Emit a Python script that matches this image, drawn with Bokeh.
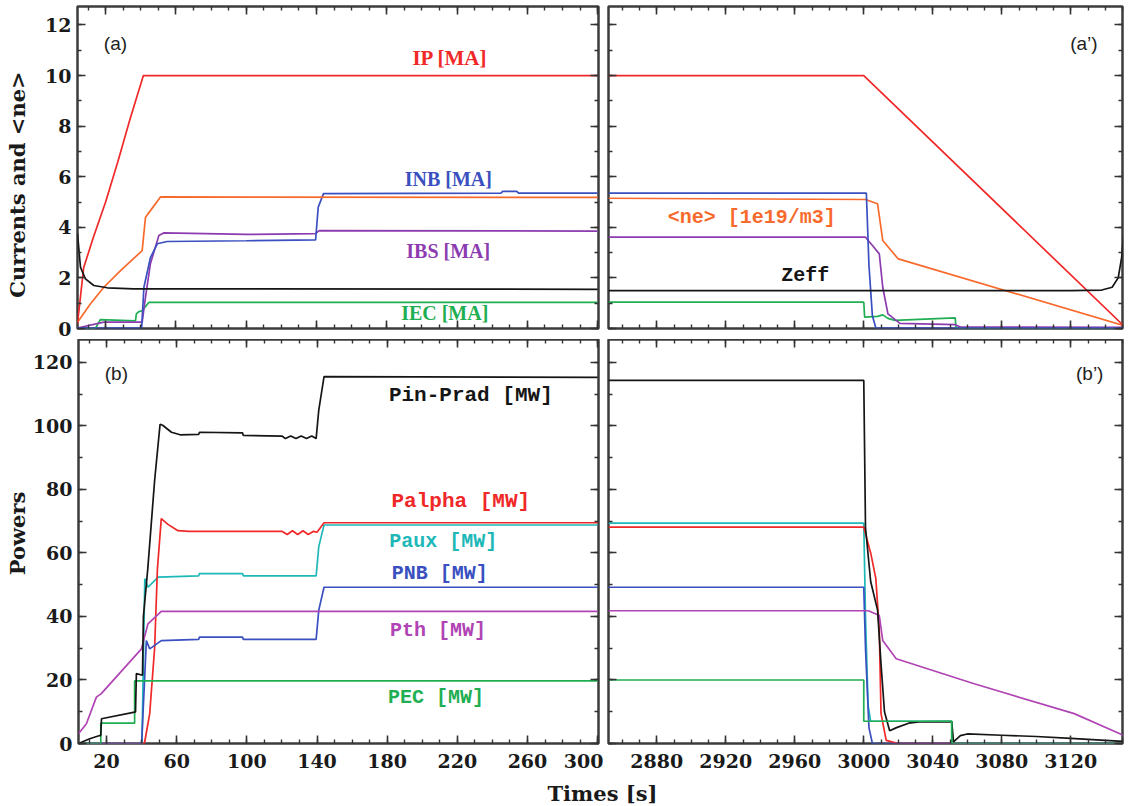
import math
from bokeh.plotting import figure
from bokeh.layouts import column, row
from bokeh.models import FixedTicker, LinearAxis, Label, Range1d
from bokeh.embed import file_html
from bokeh.resources import INLINE

# ---------------- data ----------------
# panel (a): currents and density, 0-300 s
IP_t = [4, 7.5, 13, 20, 27, 34, 41.5, 300]
IP_v = [0.2, 2.4, 3.6, 5.0, 6.6, 8.3, 10.0, 10.0]
NE_t = [4, 11.4, 19, 28.5, 40.8, 42.7, 45.5, 51.2, 300]
NE_v = [0.25, 0.98, 1.63, 2.29, 3.08, 4.4, 4.66, 5.2, 5.18]
INB_t = [4, 40.5, 41.8, 45.5, 49.4, 55, 100, 139.5, 141, 144, 245, 246, 254, 255, 300]
INB_v = [0.02, 0.02, 1.63, 2.8, 3.35, 3.44, 3.47, 3.5, 4.8, 5.33, 5.35, 5.42, 5.42, 5.35, 5.35]
IBS_t = [4, 19, 40.8, 42.7, 45.5, 50.3, 53, 100, 139.5, 141.5, 300]
IBS_v = [0.02, 0.25, 0.25, 1.24, 2.56, 3.68, 3.78, 3.72, 3.75, 3.87, 3.85]
IEC_t = [4, 14.2, 17, 37, 37.5, 38.9, 40.8, 44.6, 300]
IEC_v = [0.0, 0.0, 0.35, 0.3, 0.58, 0.67, 0.7, 1.03, 1.03]
ZEFF_t = [4, 5.7, 8.5, 13.3, 20.9, 36, 300]
ZEFF_v = [3.75, 2.42, 1.96, 1.7, 1.61, 1.57, 1.55]

# panel (a'): 2852-3150 s
IP2_t = [2852, 3000, 3150.5]
IP2_v = [10.0, 10.0, 0.12]
NE2_t = [2852, 3001, 3008, 3011, 3020, 3150.5]
NE2_v = [5.15, 5.1, 4.93, 3.48, 2.75, 0.12]
INB2_t = [2852, 3001.5, 3003, 3005, 3007, 3150]
INB2_v = [5.35, 5.35, 2.5, 0.5, 0.02, 0.02]
IBS2_t = [2852, 3001, 3006, 3009, 3011, 3014, 3021, 3053, 3056, 3150]
IBS2_v = [3.61, 3.61, 3.2, 2.95, 1.63, 0.58, 0.2, 0.15, 0.06, 0.05]
IEC2_t = [2852, 3000, 3000.5, 3008, 3011, 3014, 3018, 3053, 3053.5, 3150]
IEC2_v = [1.04, 1.04, 0.45, 0.48, 0.54, 0.4, 0.32, 0.42, 0.02, 0.02]
ZEFF2_t = [2852, 3000, 3120, 3138, 3144, 3147.5, 3149.5, 3150.5]
ZEFF2_v = [1.5, 1.5, 1.5, 1.52, 1.63, 2.0, 2.8, 3.6]

# panel (b): powers, 0-300 s
PIN_t = [4, 10.4, 16.1, 16.7, 17.1, 36, 36.5, 37, 40.5, 41, 43.5, 47.4, 50.5, 52, 57, 62,
         72.5, 73, 97.5, 98, 120, 122, 125, 128, 131, 134, 137, 139.5, 141, 144, 300]
PIN_v = [0, 1.5, 2.5, 2.5, 7.8, 9.9, 9.9, 22, 21.5, 40, 55, 82.8, 100.5, 100.2, 98, 97.2,
         97.3, 98, 97.8, 97, 96.8, 96, 96.8, 96, 96.8, 96, 96.8, 96, 105, 115.5, 115.3]
PALPHA_t = [4, 41.6, 44.6, 47.4, 49, 51.2, 55, 60.7, 67, 120, 123, 126, 129, 132, 135, 138, 140, 144, 300]
PALPHA_v = [0, 0, 9.4, 30, 55, 70.8, 69, 67, 66.8, 66.8, 65.8, 67, 65.8, 67, 65.8, 66.8, 66.5, 69.5, 69.5]
PAUX_t = [4, 40.2, 41.8, 43.6, 49.4, 72.5, 73, 97.5, 98, 139.5, 141, 144, 300]
PAUX_v = [0, 0, 51.9, 49.2, 52.4, 52.8, 53.5, 53.5, 52.8, 52.8, 62, 68.8, 68.8]
PNB_t = [4, 40, 42.7, 44.6, 51.2, 72.5, 73, 97.5, 98, 139.5, 141, 144, 300]
PNB_v = [0, 0, 32.4, 29.8, 32.4, 32.8, 33.5, 33.5, 32.8, 32.8, 42, 49.2, 49.2]
PTH_t = [4, 8.5, 14.2, 17, 39.9, 43.6, 51.2, 300]
PTH_v = [3.1, 6.2, 14.6, 15.7, 29.8, 37.7, 41.6, 41.6]
PEC_t = [4, 16.7, 16.7, 36, 36, 300]
PEC_v = [0, 0, 6.4, 6.4, 19.7, 19.7]

# panel (b'): 2852-3150 s
PIN2_t = [2852, 3000, 3001, 3004, 3008, 3010, 3012, 3015, 3019, 3026, 3032, 3051, 3052,
          3056, 3060, 3080, 3100, 3120, 3150]
PIN2_v = [114.3, 114.3, 68, 51, 42, 25, 10, 4, 5, 6.4, 6.8, 6.9, 0.5,
          2.5, 3.0, 2.6, 2.2, 1.6, 0.7]
PALPHA2_t = [2852, 3000, 3004, 3007, 3009, 3010, 3013, 3020, 3150]
PALPHA2_v = [68.1, 68.1, 60, 51.9, 35.6, 9.4, 1, 0, 0]
PAUX2_t = [2852, 3000, 3001, 3002.5, 3004, 3051, 3051, 3150]
PAUX2_v = [69.4, 69.4, 40, 12, 7, 7, 0, 0]
PNB2_t = [2852, 3000, 3001, 3003, 3005, 3150]
PNB2_v = [49.2, 49.2, 30, 5, 0, 0]
PTH2_t = [2852, 3002.7, 3009, 3011, 3018.8, 3064, 3122, 3153]
PTH2_v = [41.8, 41.8, 40.3, 32.4, 26.7, 18.8, 9.4, 2.0]
PEC2_t = [2852, 3000, 3000, 3051, 3051, 3150]
PEC2_v = [20.0, 20.0, 7.0, 7.0, 0, 0]

# ticks
X1_MAJOR = [20, 60, 100, 140, 180, 220, 260, 300]
X1_MINOR = list(range(10, 301, 10))
X2_MAJOR = [2880, 2920, 2960, 3000, 3040, 3080, 3120]
X2_MINOR = list(range(2860, 3151, 10))
YA_MAJOR = [0, 2, 4, 6, 8, 10, 12]
YA_MINOR = list(range(0, 13))
YB_MAJOR = [0, 20, 40, 60, 80, 100, 120]
YB_MINOR = list(range(0, 121, 10))

# ---------------- styling ----------------
RED = "#f02828"
ORANGE = "#f86a2c"
BLUE = "#3a4fc0"
PURPLE = "#8c3cb0"
MAGENTA = "#b044b4"
GREEN = "#1fae52"
CYAN = "#1fb8b8"
BLACK = "#151515"
SERIF = "DejaVu Serif"
MONO = "Liberation Mono"
LSERIF = "Liberation Serif"
SANS = "Liberation Sans"
LW = 1.7


def panel(xr, yr, w, h, bl, br, bt, bb, xt, xm, yt, ym, xlab, ylab):
    p = figure(width=w, height=h, x_range=xr, y_range=yr, output_backend="svg",
               toolbar_location=None, min_border_left=bl, min_border_right=br,
               min_border_top=bt, min_border_bottom=bb)
    p.xgrid.visible = False
    p.ygrid.visible = False
    p.background_fill_color = "white"
    p.border_fill_color = "white"
    p.outline_line_color = "#3c3c3c"
    p.outline_line_width = 2.5
    p.add_layout(LinearAxis(), "above")
    p.add_layout(LinearAxis(), "right")
    for ax in p.xaxis:
        ax.ticker = FixedTicker(ticks=xt, minor_ticks=xm)
    for ax in p.yaxis:
        ax.ticker = FixedTicker(ticks=yt, minor_ticks=ym)
    for ax in p.axis:
        ax.axis_line_color = None
        ax.major_tick_in = 8
        ax.major_tick_out = 0
        ax.minor_tick_in = 4
        ax.minor_tick_out = 0
        ax.major_tick_line_color = "#333333"
        ax.minor_tick_line_color = "#333333"
        ax.major_tick_line_width = 1.6
        ax.minor_tick_line_width = 1.4
        ax.major_label_text_font = SERIF
        ax.major_label_text_font_style = "bold"
        # tick-only side: labels are not drawn at all
        ax.major_label_text_font_size = "1px"
        ax.major_label_text_color = None
        ax.major_label_text_alpha = 0
        ax.major_label_standoff = 0
    if xlab:
        ax = p.below[0]
        ax.major_label_text_font_size = "19px"
        ax.major_label_text_color = "#1a1a1a"
        ax.major_label_text_alpha = 1
        ax.major_label_standoff = 10
    if ylab:
        ax = p.left[0]
        ax.major_label_text_font_size = "19px"
        ax.major_label_text_color = "#1a1a1a"
        ax.major_label_text_alpha = 1
        ax.major_label_standoff = 6
    return p


def lbl(p, x, y, text, color, font, size, bold=False, angle=0.0):
    p.add_layout(Label(x=x, y=y, text=text, text_color=color, text_font=font,
                       text_font_size=size, text_font_style="bold" if bold else "normal",
                       text_align="center", text_baseline="middle", angle=angle))


XL = Range1d(4, 300.5)
XR = Range1d(2852, 3150)
YA = Range1d(0, 12.73)
YB = Range1d(0, 127.2)

# panel (a)
p1 = panel(XL, YA, 574, 339, 48, 5, 6, 11, X1_MAJOR, X1_MINOR, YA_MAJOR, YA_MINOR, False, True)
p1.line(IEC_t, IEC_v, color=GREEN, line_width=LW)
p1.line(IBS_t, IBS_v, color=PURPLE, line_width=LW)
p1.line(INB_t, INB_v, color=BLUE, line_width=LW)
p1.line(NE_t, NE_v, color=ORANGE, line_width=LW)
p1.line(IP_t, IP_v, color=RED, line_width=LW)
p1.line(ZEFF_t, ZEFF_v, color=BLACK, line_width=LW)
lbl(p1, 216, 10.7, "IP [MA]", RED, LSERIF, "21px", True)
lbl(p1, 215, 5.93, "INB [MA]", BLUE, LSERIF, "20px", True)
lbl(p1, 215, 3.08, "IBS [MA]", PURPLE, LSERIF, "20px", True)
lbl(p1, 213, 0.63, "IEC [MA]", GREEN, LSERIF, "20px", True)
lbl(p1, 25.6, 11.26, "(a)", "#222222", SANS, "19px")

# panel (a')
p2 = panel(XR, YA, 525, 339, 5, 6, 6, 11, X2_MAJOR, X2_MINOR, YA_MAJOR, YA_MINOR, False, False)
p2.line(IEC2_t, IEC2_v, color=GREEN, line_width=LW)
p2.line(IBS2_t, IBS2_v, color=PURPLE, line_width=LW)
p2.line(NE2_t, NE2_v, color=ORANGE, line_width=LW)
p2.line(INB2_t, INB2_v, color=BLUE, line_width=LW)
p2.line(IP2_t, IP2_v, color=RED, line_width=LW)
p2.line(ZEFF2_t, ZEFF2_v, color=BLACK, line_width=LW)
lbl(p2, 2935, 4.39, "<ne> [1e19/m3]", ORANGE, MONO, "20px", True)
lbl(p2, 2966, 2.1, "Zeff", BLACK, MONO, "20px", True)
lbl(p2, 3127.6, 11.26, "(a\u2019)", "#222222", SANS, "19px")

# panel (b)
p3 = panel(XL, YB, 574, 437, 48, 5, 0, 33, X1_MAJOR, X1_MINOR, YB_MAJOR, YB_MINOR, True, True)
p3.line(PAUX_t, PAUX_v, color=CYAN, line_width=LW)
p3.line(PALPHA_t, PALPHA_v, color=RED, line_width=LW)
p3.line(PNB_t, PNB_v, color=BLUE, line_width=LW)
p3.line(PTH_t, PTH_v, color=MAGENTA, line_width=LW)
p3.line(PEC_t, PEC_v, color=GREEN, line_width=LW)
p3.line(PIN_t, PIN_v, color=BLACK, line_width=LW)
lbl(p3, 227.7, 109.6, "Pin-Prad [MW]", BLACK, MONO, "21px", True)
lbl(p3, 222, 76.2, "Palpha [MW]", RED, MONO, "21px", True)
lbl(p3, 212, 63.6, "Paux [MW]", CYAN, MONO, "20px", True)
lbl(p3, 210, 53.5, "PNB [MW]", BLUE, MONO, "20px", True)
lbl(p3, 209, 35.6, "Pth [MW]", MAGENTA, MONO, "20px", True)
lbl(p3, 207.8, 14.5, "PEC [MW]", GREEN, MONO, "20px", True)
lbl(p3, 25.6, 116.5, "(b)", "#222222", SANS, "19px")

# panel (b')
p4 = panel(XR, YB, 525, 437, 5, 6, 0, 33, X2_MAJOR, X2_MINOR, YB_MAJOR, YB_MINOR, True, False)
p4.line(PAUX2_t, PAUX2_v, color=CYAN, line_width=LW)
p4.line(PALPHA2_t, PALPHA2_v, color=RED, line_width=LW)
p4.line(PNB2_t, PNB2_v, color=BLUE, line_width=LW)
p4.line(PTH2_t, PTH2_v, color=MAGENTA, line_width=LW)
p4.line(PIN2_t, PIN2_v, color=BLACK, line_width=LW)
p4.line(PEC2_t, PEC2_v, color=GREEN, line_width=LW)
lbl(p4, 3131, 116.5, "(b\u2019)", "#222222", SANS, "19px")


def text_strip(w, h):
    s = figure(width=w, height=h, x_range=Range1d(0, w), y_range=Range1d(0, h),
               output_backend="svg", toolbar_location=None, x_axis_type=None,
               y_axis_type=None, min_border=0)
    s.outline_line_color = None
    s.xgrid.visible = False
    s.ygrid.visible = False
    return s


# y-axis titles (left strip spanning both rows)
pY = text_strip(29, 776)
lbl(pY, 17, 592, "Currents and <ne>", "#1a1a1a", SERIF, "21px", True, math.pi / 2)
lbl(pY, 17, 243, "Powers", "#1a1a1a", SERIF, "21px", True, math.pi / 2)

# shared x-axis title
pX = text_strip(1128, 30)
lbl(pX, 602, 13, "Times [s]", "#1a1a1a", SERIF, "21px", True)

layout = column(row(pY, column(row(p1, p2), row(p3, p4))), pX)
open("out.html", "w").write(file_html(layout, INLINE))
